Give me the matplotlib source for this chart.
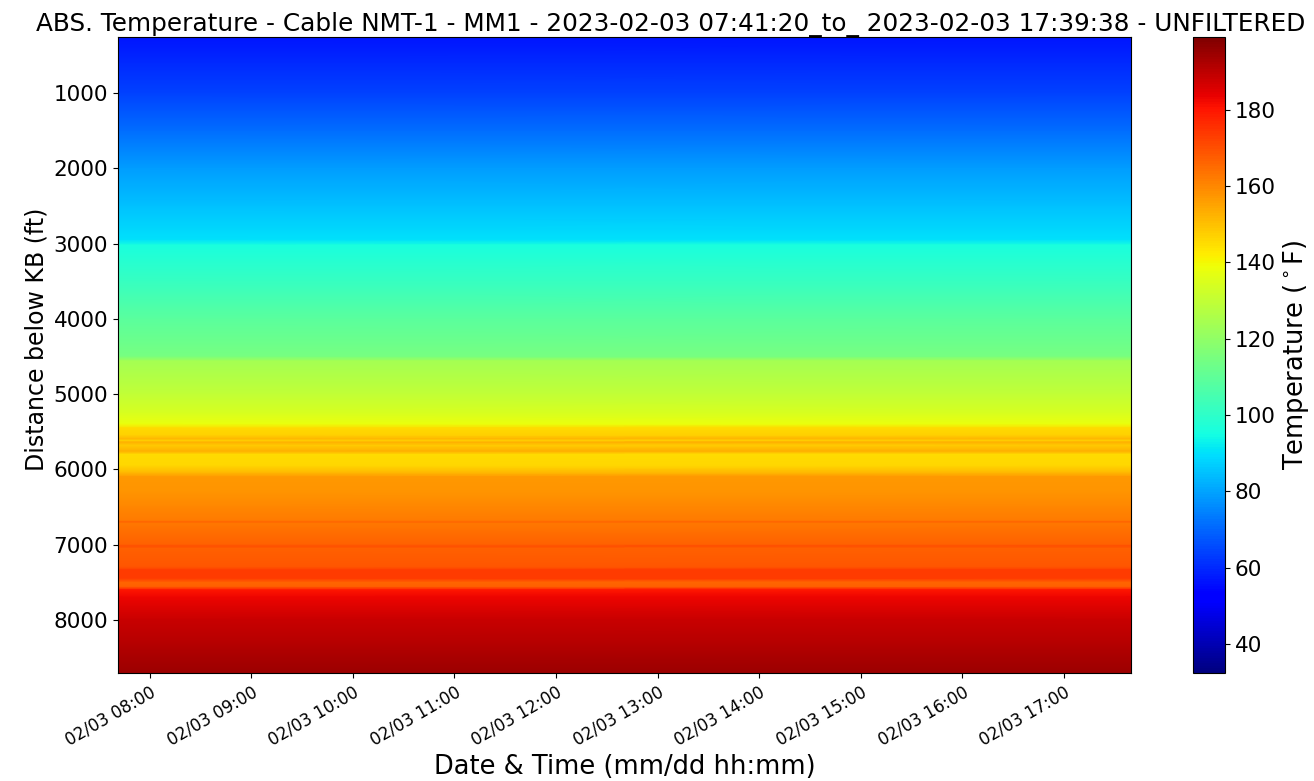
import datetime as dt

import matplotlib
matplotlib.use("Agg")
import matplotlib.pyplot as plt
import matplotlib.dates as mdates
import numpy as np

# Acquisition window
start_time = dt.datetime(2023, 2, 3, 7, 41, 20)
end_time = dt.datetime(2023, 2, 3, 17, 39, 38)

# Temperature profile along the cable (distance below KB in ft -> deg F)
depth_ft = [256, 600, 1000, 1500, 2000, 2500, 2950, 3020, 3500, 4000,
            4500, 4560, 5000, 5250, 5400, 5450, 5550, 5590, 5620, 5640,
            5680, 5760, 5800, 5950, 6050, 6100, 6300, 6500, 6680, 6700,
            6720, 7000, 7020, 7050, 7300, 7335, 7450, 7500, 7560, 7600,
            7700, 8000, 8300, 8704]
temp_f = [57, 60, 64, 71, 79, 85, 90, 96, 102, 109,
          115, 124, 130, 134, 138, 145, 147, 152, 147, 153,
          148, 153, 145, 146, 152, 157, 158, 160, 162, 166,
          163, 167, 170, 167, 169, 173, 173, 166, 167, 180,
          183, 188, 191, 195]

t_min, t_max = 32.4, 199.0

title = ("ABS. Temperature - Cable NMT-1 - MM1 - 2023-02-03 07:41:20_to_ "
         "2023-02-03 17:39:38 - UNFILTERED")

fig = plt.figure(figsize=(13.14, 7.81), dpi=100)
ax = fig.add_axes([0.0898, 0.1383, 0.7709, 0.8143])
cax = fig.add_axes([0.9079, 0.1383, 0.0244, 0.8143])

times = mdates.date2num([start_time, end_time])
depth = np.asarray(depth_ft, dtype=float)
X, Y = np.meshgrid(times, depth)
Z = np.repeat(np.asarray(temp_f, dtype=float)[:, None], len(times), axis=1)

mesh = ax.pcolormesh(X, Y, Z, cmap="jet", vmin=t_min, vmax=t_max,
                     shading="gouraud")
ax.set_xlim(times[0], times[-1])
ax.set_ylim(depth[-1], depth[0])

ax.xaxis.set_major_locator(mdates.HourLocator())
ax.xaxis.set_major_formatter(mdates.DateFormatter("%m/%d %H:%M"))
for lbl in ax.get_xticklabels():
    lbl.set_rotation(30)
    lbl.set_ha("right")
    lbl.set_rotation_mode("anchor")
ax.tick_params(axis="x", labelsize=12)
ax.tick_params(axis="y", labelsize=15.5)

ax.set_xlabel("Date & Time (mm/dd hh:mm)", fontsize=18.5)
ax.set_ylabel("Distance below KB (ft)", fontsize=17, y=0.524)
ax.set_title(title, fontsize=17.8, pad=4, x=0.546)

cb = fig.colorbar(mesh, cax=cax)
cb.set_ticks([40, 60, 80, 100, 120, 140, 160, 180])
cb.ax.tick_params(labelsize=15.5)
cb.set_label(r"Temperature ($^\circ$F)", fontsize=18.5)

fig.savefig("out.png", dpi=100)
